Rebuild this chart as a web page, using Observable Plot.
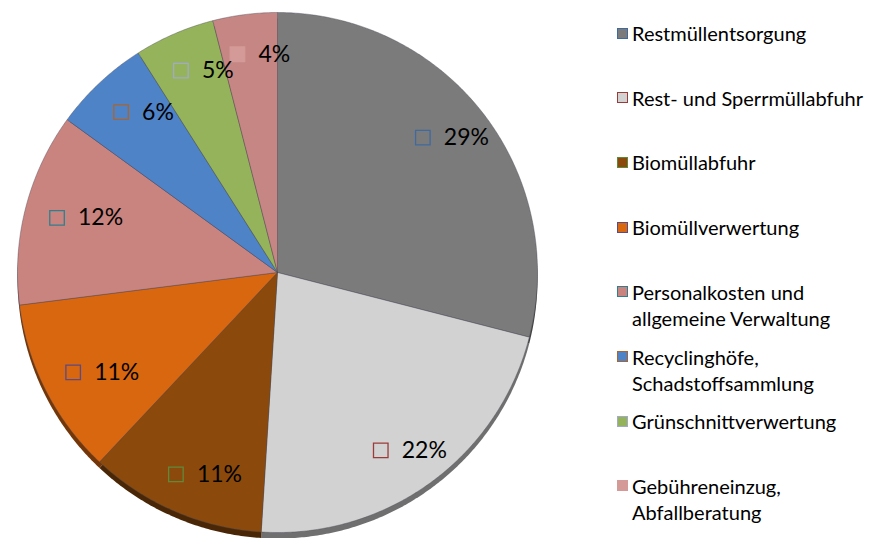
<!DOCTYPE html>
<html><head><meta charset="utf-8">
<script src="https://cdn.jsdelivr.net/npm/d3@7"></script>
<script src="https://cdn.jsdelivr.net/npm/@observablehq/plot@0.6"></script>
<style>
body{margin:0;background:#fff;font-family:Lato,sans-serif}
#wrap{position:relative;width:872px;height:538px;overflow:hidden}
#legend{position:absolute;left:617px;top:0}
.item{position:absolute;left:0;display:flex;align-items:flex-start;font-size:20px;line-height:26px;color:#000;white-space:nowrap}
.sw{width:9px;height:9px;border:1.5px solid;margin-top:7.5px;margin-right:4px;flex:none}
</style></head><body><div id="wrap"></div>
<script>
const categories = ["Restmüllentsorgung","Rest- und Sperrmüllabfuhr","Biomüllabfuhr","Biomüllverwertung","Personalkosten und allgemeine Verwaltung","Recyclinghöfe, Schadstoffsammlung","Grünschnittverwertung","Gebühreneinzug, Abfallberatung"];
const legendLines = [["Restmüllentsorgung"],["Rest- und Sperrmüllabfuhr"],["Biomüllabfuhr"],["Biomüllverwertung"],["Personalkosten und","allgemeine Verwaltung"],["Recyclinghöfe,","Schadstoffsammlung"],["Grünschnittverwertung"],["Gebühreneinzug,","Abfallberatung"]];
const shares = [29,22,11,11,12,6,5,4];
const fillColors = ["#7b7b7b","#d2d2d2","#8b4a0c","#d9670f","#c9847f","#4f83c8","#95b35a","#c68683"];
const markerFills = ["#7b7b7b","#d2d2d2","#8b4a0c","#d9670f","#c9847f","#4f83c8","#95b35a","#d49a97"];
const markerBorders = ["#3f6aa0","#9b3b39","#5f8a3a","#5a4a86","#2f7f8f","#a9642f","#a3aac9","#d49a97"];

const pie = d3.pie().sort(null).value(d => d)(shares);
const STEP = Math.PI / 360;
const slices = pie.map((p, i) => {
  const pts = [{x: 0, y: 0}];
  const n = Math.max(2, Math.ceil((p.endAngle - p.startAngle) / STEP));
  for (let k = 0; k <= n; k++) {
    const a = p.startAngle + (p.endAngle - p.startAngle) * k / n;
    pts.push({x: Math.sin(a), y: Math.cos(a)});
  }
  pts.push({x: 0, y: 0});
  return {cat: categories[i], pts, mid: (p.startAngle + p.endAngle) / 2};
});
// labels sit on an ellipse inside the pie (wider vertically than horizontally)
const LRX = 0.80, LRY = 0.846;
const labels = slices.map((s, i) => ({
  x: LRX * Math.sin(s.mid), y: LRY * Math.cos(s.mid),
  label: shares[i] + "%", fill: markerFills[i], stroke: markerBorders[i],
  wide: shares[i] >= 10
}));

const chart = Plot.plot({
  width: 872, height: 538, margin: 0,
  style: {fontFamily: "Lato, sans-serif", background: "transparent"},
  x: {domain: [-1, 1], range: [17, 537], axis: null},
  y: {domain: [-1, 1], range: [532, 12], axis: null},
  color: {type: "identity"},
  marks: [
    ...slices.map((s, i) => Plot.line(s.pts, {x: "x", y: "y", fill: d3.color(fillColors[i]).darker(1.8).formatHex(), stroke: "none", dy: 6})),
    ...slices.map((s, i) => Plot.line(s.pts, {x: "x", y: "y", fill: fillColors[i], stroke: "#4a4a5a", strokeWidth: 0.7, strokeOpacity: 0.6})),
    Plot.dot(labels.filter(d => d.wide), {x: "x", y: "y", symbol: "square", r: 8.2, fill: "fill", stroke: "stroke", strokeWidth: 1.3, dx: -19}),
    Plot.text(labels.filter(d => d.wide), {x: "x", y: "y", text: "label", dx: 2, textAnchor: "start", fontSize: 23, fill: "#000"}),
    Plot.dot(labels.filter(d => !d.wide), {x: "x", y: "y", symbol: "square", r: 8.2, fill: "fill", stroke: "stroke", strokeWidth: 1.3, dx: -14}),
    Plot.text(labels.filter(d => !d.wide), {x: "x", y: "y", text: "label", dx: 7, textAnchor: "start", fontSize: 23, fill: "#000"})
  ]
});
const wrap = document.getElementById("wrap");
wrap.appendChild(chart);

const legend = document.createElement("div");
legend.id = "legend";
legendLines.forEach((lines, i) => {
  const item = document.createElement("div");
  item.className = "item";
  item.style.top = (20 + 64.7 * i) + "px";
  const sw = document.createElement("div");
  sw.className = "sw";
  sw.style.background = markerFills[i];
  sw.style.borderColor = markerBorders[i];
  const tx = document.createElement("div");
  tx.innerHTML = lines.join("<br>");
  item.appendChild(sw); item.appendChild(tx);
  legend.appendChild(item);
});
wrap.appendChild(legend);
</script></body></html>
